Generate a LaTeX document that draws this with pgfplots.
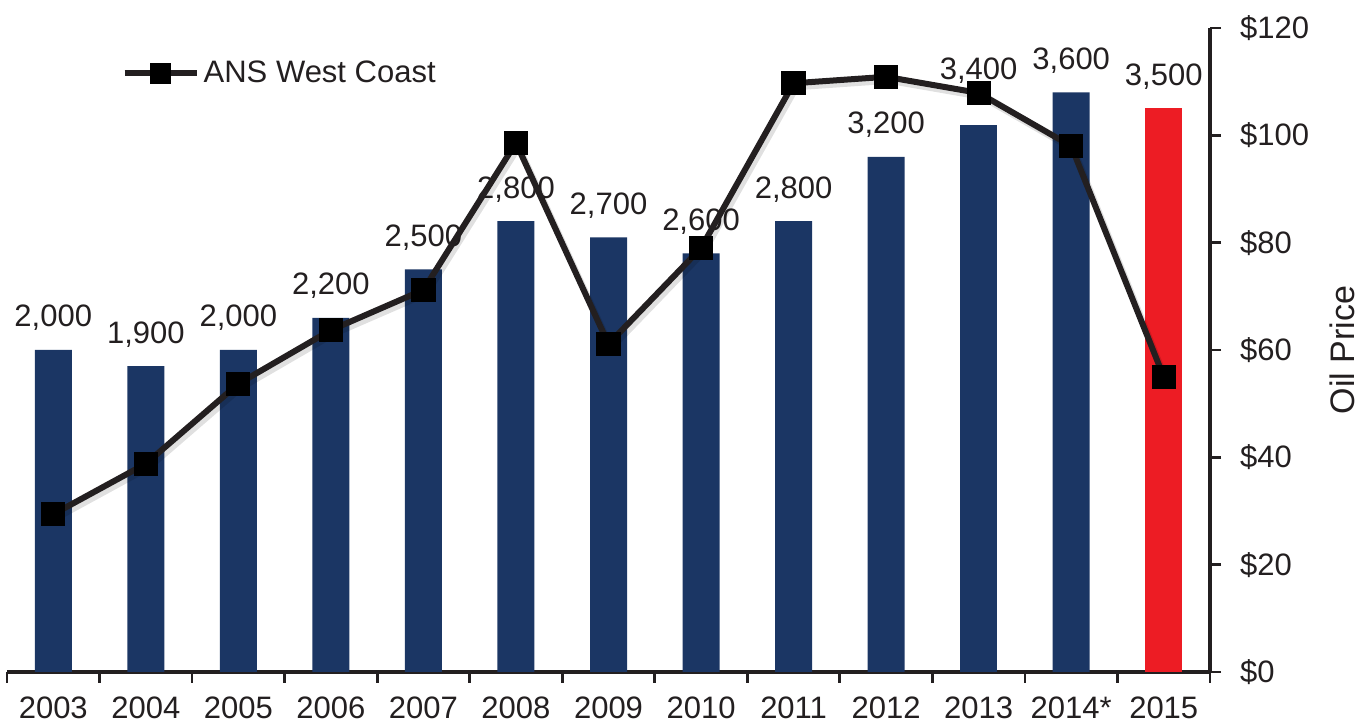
\documentclass[border=0pt]{standalone}
\usepackage{pgfplots}
\pgfplotsset{compat=1.18}
\usepackage{fontspec}
\setmainfont{Liberation Sans}
\definecolor{navy}{RGB}{27,54,100}
\definecolor{redbar}{RGB}{237,28,36}
\definecolor{ink}{RGB}{35,31,32}
\begin{document}
\begin{tikzpicture}
\pgfplotsset{
  base/.style={
    width=601.5pt, height=322pt, scale only axis,
    xmin=-0.5, xmax=12.5,
    font=\fontsize{15.5}{18}\selectfont,
    /pgf/number format/assume math mode=true,
    axis line style={ink, line width=1.6pt},
    tick style={ink, line width=1.4pt},
    tick align=outside,
    clip=false,
  }
}
\begin{axis}[base, name=ax,
  ymin=0, ymax=4000,
  axis x line*=bottom, axis y line=none,
  xtick={0,...,12},
  xticklabels={2003,2004,2005,2006,2007,2008,2009,2010,2011,2012,2013,2014*,2015},
  major tick length=0pt,
  minor xtick={-0.5,0.5,...,12.5},
  minor tick length=5.5pt,
  xticklabel style={yshift=-9pt, text=ink},
  ybar, bar width=18.5pt, bar shift=0pt,
  nodes near coords, point meta=explicit symbolic,
  every node near coord/.append style={text=ink, font=\fontsize{15.5}{18}\selectfont, yshift=6pt},
]
\addplot[fill=navy, draw=none] table[meta=lab] {
x y lab
0 2000 2,000
1 1900 1,900
2 2000 2,000
3 2200 2,200
4 2500 2,500
5 2800 2,800
6 2700 2,700
7 2600 2,600
8 2800 2,800
9 3200 3,200
11 3600 3,600
};
\addplot[fill=navy, draw=none, every node near coord/.append style={yshift=11pt}] table[meta=lab] {
x y lab
10 3400 3,400
};
\addplot[fill=redbar, draw=none] table[meta=lab] {
x y lab
12 3500 3,500
};
\end{axis}
\begin{axis}[base,
  ymin=0, ymax=120,
  axis x line=none, axis y line*=right,
  ytick={0,20,...,120},
  yticklabels={\$0,\$20,\$40,\$60,\$80,\$100,\$120},
  major tick length=5.5pt,
  yticklabel style={xshift=6pt, text=ink},
  ylabel={Oil Price},
  ylabel style={text=ink, xshift=0pt, yshift=-3.5pt, font=\fontsize{17}{20}\selectfont},
  legend style={draw=none, fill=none, at={(0.095,0.93)}, anchor=west,
    font=\fontsize{15.5}{18}\selectfont, text=ink,
    legend cell align=left, inner sep=0pt},
  legend image code/.code={
    \draw[mark repeat=2,mark phase=2,#1,mark size=5pt] plot coordinates {(0pt,0pt) (18pt,0pt) (36pt,0pt)};},
]
\addplot[forget plot, line width=3pt, black, opacity=0.12, shift={(1.5pt,-2pt)}] coordinates {
(0,29.4) (1,38.8) (2,53.7) (3,63.7) (4,71.2) (5,98.6) (6,61.1) (7,79.0) (8,109.7) (9,110.9) (10,107.9) (11,98.0) (12,55.0)};
\addplot[ink, line width=3pt, mark=square*, mark size=5.8pt,
  mark options={black, fill=black, line width=0.5pt}] coordinates {
(0,29.4) (1,38.8) (2,53.7) (3,63.7) (4,71.2) (5,98.6) (6,61.1) (7,79.0) (8,109.7) (9,110.9) (10,107.9) (11,98.0) (12,55.0)};
\addlegendentry{ANS West Coast}
\end{axis}
\pgfresetboundingbox
\path ([shift={(-3.5pt,-26pt)}]ax.south west) rectangle ([shift={(79.5pt,14pt)}]ax.north east);
\end{tikzpicture}
\end{document}
